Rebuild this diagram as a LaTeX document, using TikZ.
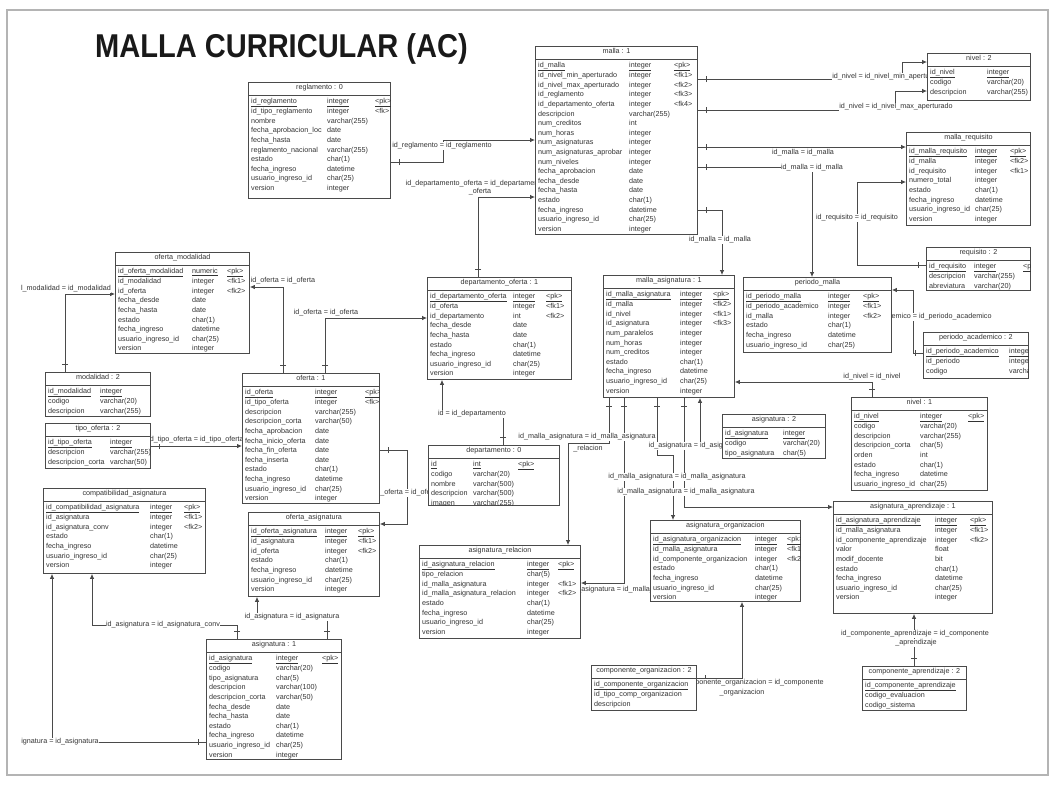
\documentclass[tikz,border=0pt]{standalone}
\usepackage{fontspec}
\setmainfont{Liberation Sans}
\usepackage{array}
\usepackage{graphicx}
\usetikzlibrary{arrows.meta,calc,decorations.markings}
\pgfdeclarelayer{background}
\pgfsetlayers{background,main}
\definecolor{linec}{HTML}{4A4A4A}
\definecolor{textc}{HTML}{333333}
\definecolor{framec}{HTML}{B4B4B4}
\newcommand{\tblfont}{\fontsize{7.2}{9.6}\selectfont}
\newcommand{\pkrow}[3]{\underline{#1}&\underline{#2}&\underline{#3}\\}
\tikzset{
  tblbox/.style={draw=linec, fill=white, line width=0.9pt, inner sep=0pt, rectangle},
  tbltext/.style={font=\tblfont, text=textc, inner sep=0pt},
  tblsep/.style={draw=linec, line width=0.9pt},
  rel/.style={draw=linec, line width=0.75pt, -{Latex[length=5pt,width=4.5pt]},
    postaction={decorate},
    decoration={markings, mark=at position 8pt with {\draw[-, draw=linec, line width=0.75pt] (0pt,-3pt) -- (0pt,3pt);}}},
  lbl/.style={font=\tblfont, text=textc, fill=white, inner sep=0.5pt},
  framebox/.style={draw=framec, line width=1.6pt},
}
% table: name, x, y, width, height, name column, type column, title, rows
\newcommand{\ertable}[9]{%
  \node[tblbox, minimum width=#4pt, minimum height=#5pt, anchor=north west] (#1) at (#2,#3) {};
  \begin{scope}
    \clip (#1.north west) rectangle (#1.south east);
    \node[tbltext, anchor=north] (#1-ttl) at ($(#1.north)+(0,2)$) {#8};
    \draw[tblsep] ($(#1.north west)+(0,13.5)$) -- ($(#1.north east)+(0,13.5)$);
    \node[tbltext, anchor=north west] (#1-rows) at ($(#1.north west)+(3,14.5)$)
      {\begin{tabular}{@{}w{l}{#6pt}@{}w{l}{#7pt}@{}l@{}}#9\end{tabular}};
  \end{scope}}
\begin{document}
\catcode`\_=12
\begin{tikzpicture}[x=1pt,y=-1pt]
\useasboundingbox (0,0) rectangle (1051,785);
\begin{pgfonlayer}{background}
  \fill[white] (0,0) rectangle (1051,785);
  \draw[framebox] (7,10) rectangle (1048,775);
\end{pgfonlayer}

\node[anchor=base west, inner sep=0pt, text=black!90, font=\bfseries\fontsize{33}{33}\selectfont] (title) at (95,57) {\scalebox{0.88}[1]{MALLA CURRICULAR (AC)}};

% ---------------- tables ----------------
\ertable{reglamento}{248}{82}{142}{116}{76}{48}{reglamento : 0}{%
\pkrow{id_reglamento}{integer}{<pk>}
id_tipo_reglamento & integer & <fk>\\
nombre & varchar(255) & \\
fecha_aprobacion_loc & date & \\
fecha_hasta & date & \\
reglamento_nacional & varchar(255) & \\
estado & char(1) & \\
fecha_ingreso & datetime & \\
usuario_ingreso_id & char(25) & \\
version & integer & \\}

\ertable{malla}{535}{46}{162}{188}{91}{45}{malla : 1}{%
\pkrow{id_malla}{integer}{<pk>}
id_nivel_min_aperturado & integer & <fk1>\\
id_nivel_max_aperturado & integer & <fk2>\\
id_reglamento & integer & <fk3>\\
id_departamento_oferta & integer & <fk4>\\
descripcion & varchar(255) & \\
num_creditos & int & \\
num_horas & integer & \\
num_asignaturas & integer & \\
num_asignaturas_aprobar & integer & \\
num_niveles & integer & \\
fecha_aprobacion & date & \\
fecha_desde & date & \\
fecha_hasta & date & \\
estado & char(1) & \\
fecha_ingreso & datetime & \\
usuario_ingreso_id & char(25) & \\
version & integer & \\}

\ertable{nivel2}{927}{53}{103}{47}{57}{45}{nivel : 2}{%
\pkrow{id_nivel}{integer}{}
codigo & varchar(20) & \\
descripcion & varchar(255) & \\}

\ertable{malla_requisito}{906}{132}{124}{93}{66}{35}{malla_requisito}{%
\pkrow{id_malla_requisito}{integer}{<pk>}
id_malla & integer & <fk2>\\
id_requisito & integer & <fk1>\\
numero_total & integer & \\
estado & char(1) & \\
fecha_ingreso & datetime & \\
usuario_ingreso_id & char(25) & \\
version & integer & \\}

\ertable{requisito}{926}{247}{104}{43}{45}{49}{requisito : 2}{%
\pkrow{id_requisito}{integer}{<pk>}
descripcion & varchar(255) & \\
abreviatura & varchar(20) & \\}

\ertable{periodo_malla}{743}{277}{148}{75}{82}{35}{periodo_malla}{%
\pkrow{id_periodo_malla}{integer}{<pk>}
id_periodo_academico & integer & <fk1>\\
id_malla & integer & <fk2>\\
estado & char(1) & \\
fecha_ingreso & datetime & \\
usuario_ingreso_id & char(25) & \\}

\ertable{periodo_academico}{923}{332}{105}{46}{83}{40}{periodo_academico : 2}{%
\pkrow{id_periodo_academico}{integer}{}
id_periodo & integer & \\
codigo & varchar(20) & \\}

\ertable{nivel1}{851}{397}{136}{93}{66}{48}{nivel : 1}{%
\pkrow{id_nivel}{integer}{<pk>}
codigo & varchar(20) & \\
descripcion & varchar(255) & \\
descripcion_corta & char(5) & \\
orden & int & \\
estado & char(1) & \\
fecha_ingreso & datetime & \\
usuario_ingreso_id & char(25) & \\}

\ertable{asignatura_aprendizaje}{833}{501}{159}{112}{99}{35}{asignatura_aprendizaje : 1}{%
\pkrow{id_asignatura_aprendizaje}{integer}{<pk>}
id_malla_asignatura & integer & <fk1>\\
id_componente_aprendizaje & integer & <fk2>\\
valor & float & \\
modif_docente & bit & \\
estado & char(1) & \\
fecha_ingreso & datetime & \\
usuario_ingreso_id & char(25) & \\
version & integer & \\}

\ertable{componente_aprendizaje}{862}{666}{104}{44}{98}{2}{componente_aprendizaje : 2}{%
\pkrow{id_componente_aprendizaje}{}{}
codigo_evaluacion & & \\
codigo_sistema & & \\}

\ertable{asignatura_organizacion}{650}{520}{150}{81}{102}{32}{asignatura_organizacion}{%
\pkrow{id_asignatura_organizacion}{integer}{<pk>}
id_malla_asignatura & integer & <fk1>\\
id_componente_organizacion & integer & <fk2>\\
estado & char(1) & \\
fecha_ingreso & datetime & \\
usuario_ingreso_id & char(25) & \\
version & integer & \\}

\ertable{componente_organizacion}{591}{665}{105}{45}{99}{2}{componente_organizacion : 2}{%
\pkrow{id_componente_organizacion}{}{}
id_tipo_comp_organizacion & & \\
descripcion & & \\}

\ertable{asignatura_relacion}{419}{545}{161}{93}{105}{31}{asignatura_relacion}{%
\pkrow{id_asignatura_relacion}{integer}{<pk>}
tipo_relacion & char(5) & \\
id_malla_asignatura & integer & <fk1>\\
id_malla_asignatura_relacion & integer & <fk2>\\
estado & char(1) & \\
fecha_ingreso & datetime & \\
usuario_ingreso_id & char(25) & \\
version & integer & \\}

\ertable{malla_asignatura}{603}{275}{131}{122}{74}{33}{malla_asignatura : 1}{%
\pkrow{id_malla_asignatura}{integer}{<pk>}
id_malla & integer & <fk2>\\
id_nivel & integer & <fk1>\\
id_asignatura & integer & <fk3>\\
num_paralelos & integer & \\
num_horas & integer & \\
num_creditos & integer & \\
estado & char(1) & \\
fecha_ingreso & datetime & \\
usuario_ingreso_id & char(25) & \\
version & integer & \\}

\ertable{asignatura2}{722}{414}{103}{44}{58}{40}{asignatura : 2}{%
\pkrow{id_asignatura}{integer}{}
codigo & varchar(20) & \\
tipo_asignatura & char(5) & \\}

\ertable{departamento_oferta}{427}{277}{144}{102}{83}{33}{departamento_oferta : 1}{%
\pkrow{id_departamento_oferta}{integer}{<pk>}
id_oferta & integer & <fk1>\\
id_departamento & int & <fk2>\\
fecha_desde & date & \\
fecha_hasta & date & \\
estado & char(1) & \\
fecha_ingreso & datetime & \\
usuario_ingreso_id & char(25) & \\
version & integer & \\}

\ertable{departamento}{428}{445}{131}{60}{42}{45}{departamento : 0}{%
\pkrow{id}{int}{<pk>}
codigo & varchar(20) & \\
nombre & varchar(500) & \\
descripcion & varchar(500) & \\
imagen & varchar(255) & \\}

\ertable{oferta}{242}{373}{137}{130}{70}{50}{oferta : 1}{%
\pkrow{id_oferta}{integer}{<pk>}
id_tipo_oferta & integer & <fk>\\
descripcion & varchar(255) & \\
descripcion_corta & varchar(50) & \\
fecha_aprobacion & date & \\
fecha_inicio_oferta & date & \\
fecha_fin_oferta & date & \\
fecha_inserta & date & \\
estado & char(1) & \\
fecha_ingreso & datetime & \\
usuario_ingreso_id & char(25) & \\
version & integer & \\}

\ertable{oferta_modalidad}{115}{252}{134}{101}{74}{35}{oferta_modalidad}{%
\pkrow{id_oferta_modalidad}{numeric}{<pk>}
id_modalidad & integer & <fk1>\\
id_oferta & integer & <fk2>\\
fecha_desde & date & \\
fecha_hasta & date & \\
estado & char(1) & \\
fecha_ingreso & datetime & \\
usuario_ingreso_id & char(25) & \\
version & integer & \\}

\ertable{modalidad}{45}{372}{105}{44}{52}{45}{modalidad : 2}{%
\pkrow{id_modalidad}{integer}{}
codigo & varchar(20) & \\
descripcion & varchar(255) & \\}

\ertable{tipo_oferta}{45}{423}{105}{45}{62}{40}{tipo_oferta : 2}{%
\pkrow{id_tipo_oferta}{integer}{}
descripcion & varchar(255) & \\
descripcion_corta & varchar(50) & \\}

\ertable{compatibilidad}{43}{488}{162}{85}{104}{34}{compatibilidad_asignatura}{%
\pkrow{id_compatibilidad_asignatura}{integer}{<pk>}
id_asignatura & integer & <fk1>\\
id_asignatura_conv & integer & <fk2>\\
estado & char(1) & \\
fecha_ingreso & datetime & \\
usuario_ingreso_id & char(25) & \\
version & integer & \\}

\ertable{oferta_asignatura}{248}{512}{131}{84}{74}{33}{oferta_asignatura}{%
\pkrow{id_oferta_asignatura}{integer}{<pk>}
id_asignatura & integer & <fk1>\\
id_oferta & integer & <fk2>\\
estado & char(1) & \\
fecha_ingreso & datetime & \\
usuario_ingreso_id & char(25) & \\
version & integer & \\}

\ertable{asignatura1}{206}{639}{135}{120}{67}{46}{asignatura : 1}{%
\pkrow{id_asignatura}{integer}{<pk>}
codigo & varchar(20) & \\
tipo_asignatura & char(5) & \\
descripcion & varchar(100) & \\
descripcion_corta & varchar(50) & \\
fecha_desde & date & \\
fecha_hasta & date & \\
estado & char(1) & \\
fecha_ingreso & datetime & \\
usuario_ingreso_id & char(25) & \\
version & integer & \\}

% ---------------- references ----------------
\begin{pgfonlayer}{background}
\draw[rel] ($(reglamento.north east)+(0,80)$) -- (443,162) -- (443,140) -- ($(malla.north west)+(0,94)$);
\draw[rel] ($(departamento_oferta.north west)+(51,0)$) -- (478,197) -- ($(malla.north west)+(0,151)$);
\draw[rel] ($(malla.north east)+(0,33)$) -- (902,79) -- (902,62) -- ($(nivel2.north west)+(0,9)$);
\draw[rel] ($(malla.north east)+(0,64)$) -- (895,110) -- (895,91) -- ($(nivel2.north west)+(0,38)$);
\draw[rel] ($(malla.north east)+(0,101)$) -- ($(malla_requisito.north west)+(0,15)$);
\draw[rel] ($(malla.north east)+(0,121)$) -- (812,167) -- ($(periodo_malla.north west)+(69,0)$);
\draw[rel] ($(requisito.north west)+(0,18)$) -- (857,265) -- (857,182) -- ($(malla_requisito.north west)+(0,50)$);
\draw[rel] ($(malla.north east)+(0,164)$) -- (722,210) -- ($(malla_asignatura.north west)+(119,0)$);
\draw[rel] ($(periodo_academico.north west)+(0,21)$) -- (913,353) -- (913,290) -- ($(periodo_malla.north east)+(0,13)$);
\draw[rel] ($(nivel1.north west)+(21,0)$) -- (872,382) -- ($(malla_asignatura.north east)+(0,107)$);
\draw[rel] ($(asignatura2.north west)+(0,32)$) -- (700,446) -- ($(malla_asignatura.south west)+(97,0)$);
\draw[rel] ($(malla_asignatura.south west)+(6,0)$) -- (609,443) -- (568,443) -- ($(asignatura_relacion.north west)+(149,0)$);
\draw[rel] ($(malla_asignatura.south west)+(21,0)$) -- (624,583) -- ($(asignatura_relacion.north east)+(0,38)$);
\draw[rel] ($(malla_asignatura.south west)+(54,0)$) -- (657,455) -- (673,455) -- ($(asignatura_organizacion.north west)+(23,0)$);
\draw[rel] ($(malla_asignatura.south west)+(81,0)$) -- (684,507) -- ($(asignatura_aprendizaje.north west)+(0,6)$);
\draw[rel] ($(oferta.north west)+(41,0)$) -- (283,287) -- ($(oferta_modalidad.north east)+(0,35)$);
\draw[rel] ($(oferta.north west)+(83,0)$) -- (325,318) -- ($(departamento_oferta.north west)+(0,41)$);
\draw[rel] ($(modalidad.north west)+(20,0)$) -- (65,294) -- ($(oferta_modalidad.north west)+(0,42)$);
\draw[rel] ($(tipo_oferta.north east)+(0,23)$) -- ($(oferta.north west)+(0,73)$);
\draw[rel] ($(oferta.north east)+(0,77)$) -- (407,450) -- (407,524) -- ($(oferta_asignatura.north east)+(0,12)$);
\draw[rel] ($(asignatura1.north west)+(121,0)$) -- (327,620) -- (257,620) -- ($(oferta_asignatura.south west)+(9,0)$);
\draw[rel] ($(asignatura1.north west)+(31,0)$) -- (237,625) -- (92,625) -- ($(compatibilidad.south west)+(49,0)$);
\draw[rel] ($(asignatura1.north west)+(0,103)$) -- (52,742) -- ($(compatibilidad.south west)+(9,0)$);
\draw[rel] ($(departamento.north west)+(75,0)$) -- (503,414) -- (442,414) -- ($(departamento_oferta.south west)+(15,0)$);
\draw[rel] ($(componente_organizacion.north east)+(0,13)$) -- (742,678) -- ($(asignatura_organizacion.south west)+(92,0)$);
\draw[rel] ($(componente_aprendizaje.north west)+(52,0)$) -- ($(asignatura_aprendizaje.south west)+(81,0)$);

% reference labels
\node[lbl] (l1) at (442,146) {id_reglamento = id_reglamento};
\node[lbl] (l2a) at (475,184) {id_departamento_oferta = id_departamento};
\node[lbl] (l2b) at (480,192) {_oferta};
\node[lbl] (l3) at (888,77) {id_nivel = id_nivel_min_aperturado};
\node[lbl] (l4) at (896,107) {id_nivel = id_nivel_max_aperturado};
\node[lbl] (l5) at (803,153) {id_malla = id_malla};
\node[lbl] (l6) at (812,168) {id_malla = id_malla};
\node[lbl] (l7) at (857,218) {id_requisito = id_requisito};
\node[lbl] (l8) at (720,240) {id_malla = id_malla};
\node[lbl] (l9) at (915,317) {id_periodo_academico = id_periodo_academico};
\node[lbl] (l10) at (872,377) {id_nivel = id_nivel};
\node[lbl] (l11) at (696,446) {id_asignatura = id_asignatura};
\node[lbl] (l12a) at (587,437) {id_malla_asignatura = id_malla_asignatura};
\node[lbl] (l12b) at (588,449) {_relacion};
\node[lbl] (l13) at (619,590) {id_malla_asignatura = id_malla_asignatura};
\node[lbl] (l14) at (677,477) {id_malla_asignatura = id_malla_asignatura};
\node[lbl] (l15) at (686,492) {id_malla_asignatura = id_malla_asignatura};
\node[lbl] (l16) at (283,281) {id_oferta = id_oferta};
\node[lbl] (l17) at (326,313) {id_oferta = id_oferta};
\node[lbl] (l18) at (66,289) {l_modalidad = id_modalidad};
\node[lbl] (l19) at (196,440) {id_tipo_oferta = id_tipo_oferta};
\node[lbl] (l20) at (407,493) {id_oferta = id_oferta};
\node[lbl] (l21) at (292,617) {id_asignatura = id_asignatura};
\node[lbl] (l22) at (163,625) {id_asignatura = id_asignatura_conv};
\node[lbl] (l23) at (60,742) {ignatura = id_asignatura};
\node[lbl] (l24) at (472,414) {id = id_departamento};
\node[lbl] (l25a) at (748,683) {id_componente_organizacion = id_componente};
\node[lbl] (l25b) at (742,693) {_organizacion};
\node[lbl] (l26a) at (915,634) {id_componente_aprendizaje = id_componente};
\node[lbl] (l26b) at (916,643) {_aprendizaje};
\end{pgfonlayer}
\end{tikzpicture}
\end{document}
